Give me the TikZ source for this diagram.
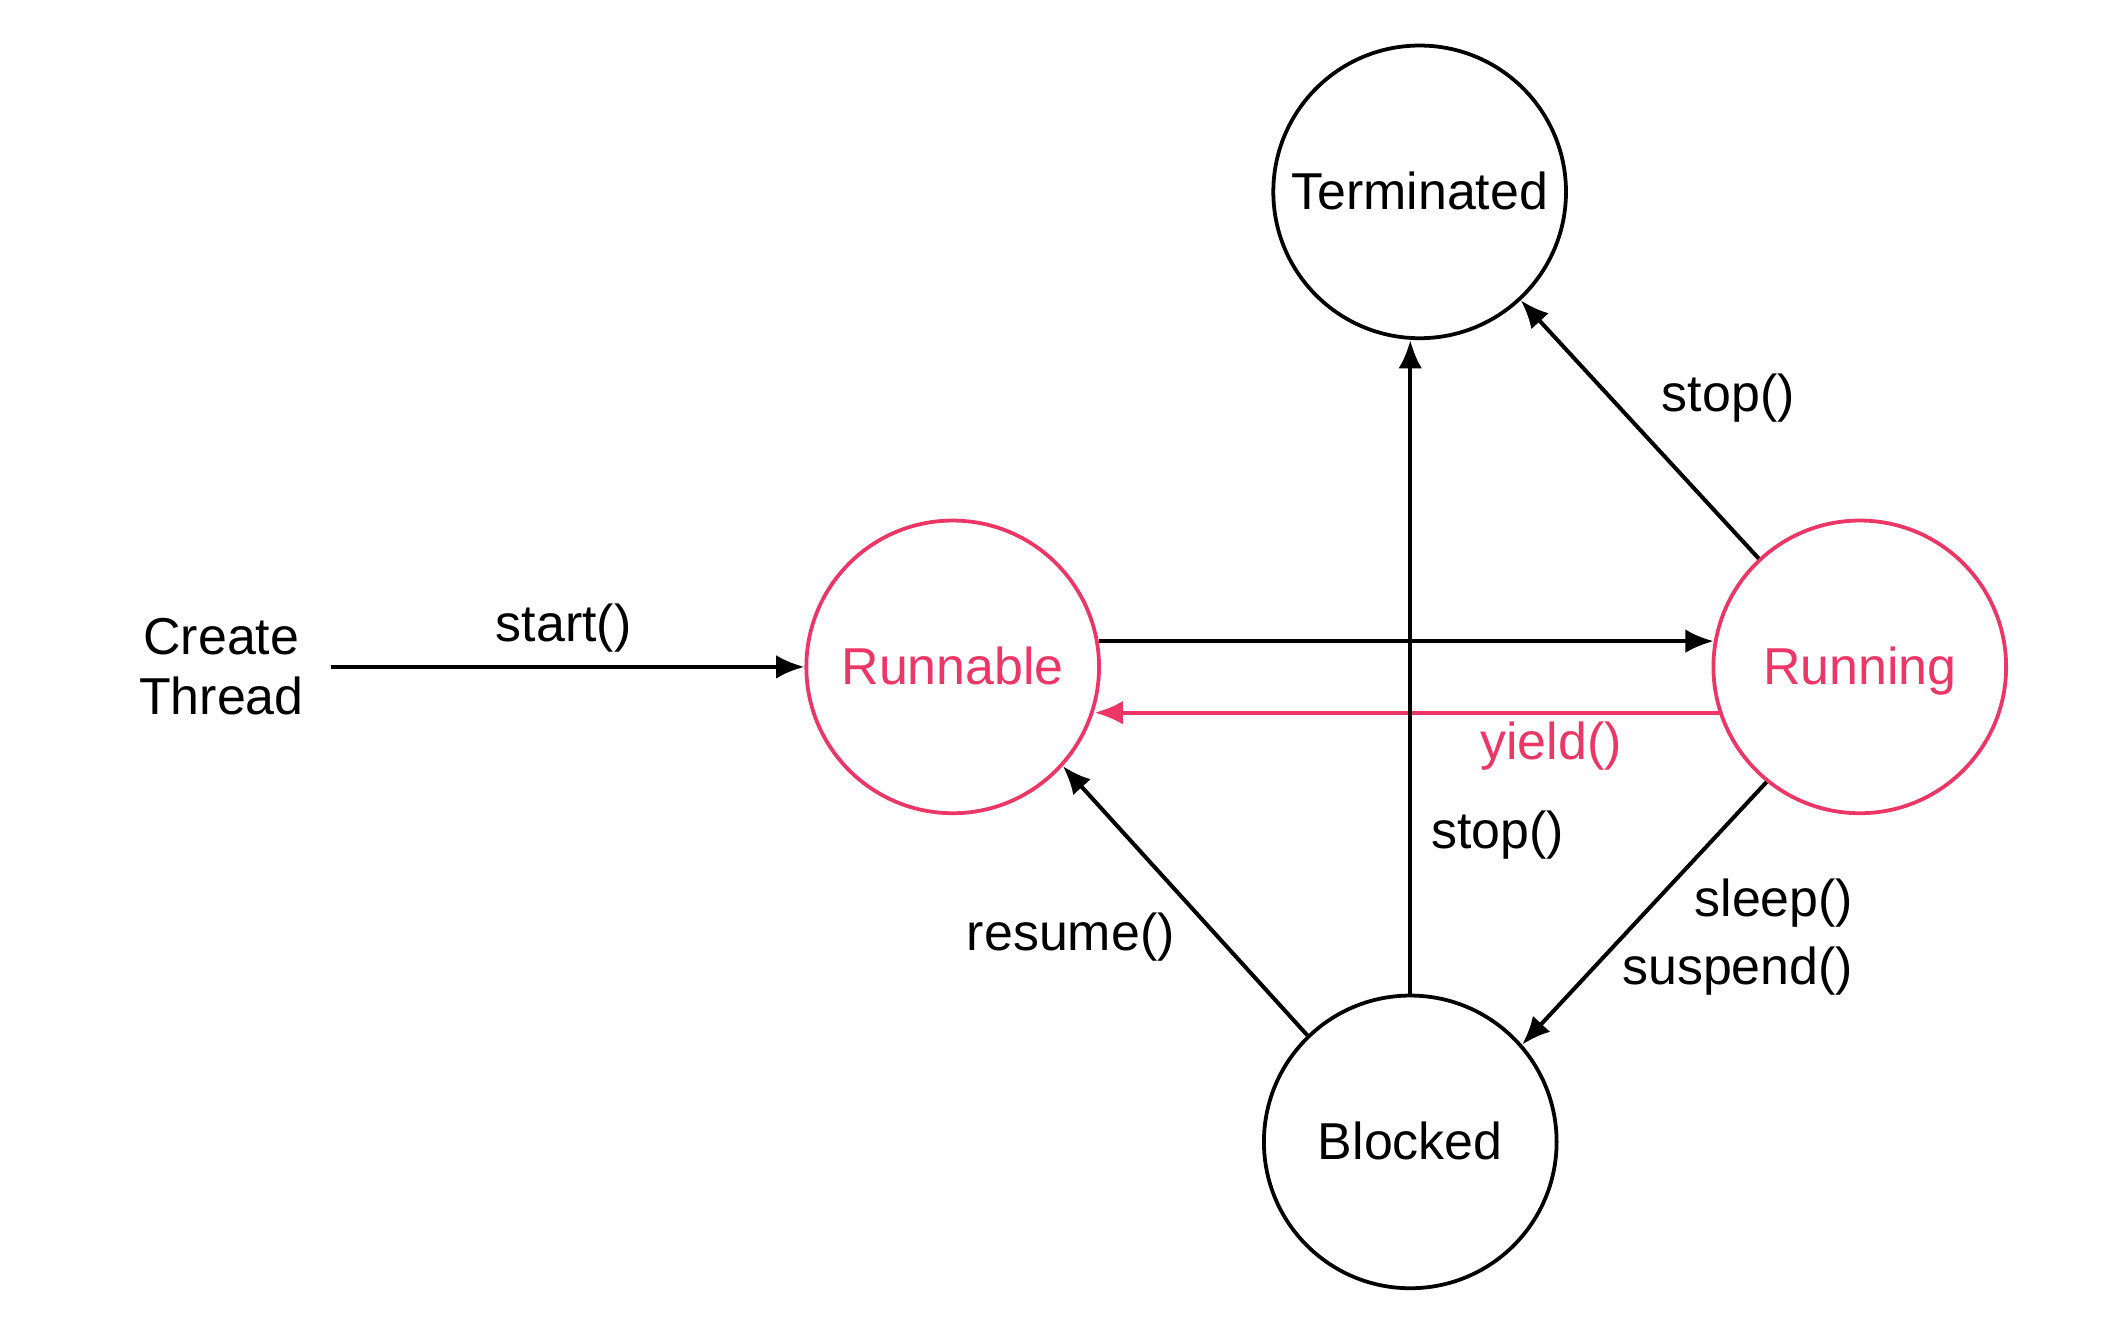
\documentclass[tikz,border=0pt]{standalone}
\usepackage{fontspec}
\setmainfont{Liberation Sans}
\usetikzlibrary{arrows.meta,calc}
\definecolor{pinkc}{RGB}{236,54,101}
\begin{document}
\begin{tikzpicture}[x=0.01cm,y=-0.01cm,
  state/.style={circle,draw,line width=0.8pt,minimum size=2.18cm,inner sep=0pt,text height=1.8ex,text depth=0.35ex,font=\fontsize{11}{13}\selectfont},
  hot/.style={draw=pinkc,text=pinkc},
  conn/.style={line width=0.85pt,-{Latex[length=6pt,width=5pt]}},
  lbl/.style={font=\fontsize{11}{13}\selectfont,inner sep=0pt}]
\useasboundingbox (0,0) rectangle (1568,982);
\node[state] (term) at (1058,143) {Terminated};
\node[state,hot] (runnable) at (710,497) {Runnable};
\node[state,hot] (running) at (1386,497) {Running};
\node[state] (blocked) at (1051,851) {Blocked};
\node[lbl,align=center,font=\fontsize{11}{12.8}\selectfont] (create) at (165,497) {Create\\Thread};
\coordinate (cstart) at (247,497);
\draw[conn] (cstart) -- (runnable.west);
\node[lbl] (lstart) at (420,468) {start()};
\draw[conn] (runnable.10) -- (runnable.10 -| running.170);
\draw[conn,pinkc] (running.-162.4) -- (running.-162.4 -| runnable.-17.6);
\node[lbl,text=pinkc] (lyield) at (1156,556) {yield()};
\draw[conn] (blocked.north) -- (blocked.north |- term.south);
\node[lbl] (lstop1) at (1116,622) {stop()};
\draw[conn] (running.133) -- (term.-47.7);
\node[lbl] (lstop2) at (1288,297) {stop()};
\draw[conn] (running.231.3) -- (blocked.41.8);
\node[lbl] (lsleep) at (1322,673) {sleep()};
\node[lbl] (lsusp) at (1295,724) {suspend()};
\draw[conn] (blocked.134) -- (runnable.-42.5);
\node[lbl] (lres) at (798,698) {resume()};
\end{tikzpicture}
\end{document}
